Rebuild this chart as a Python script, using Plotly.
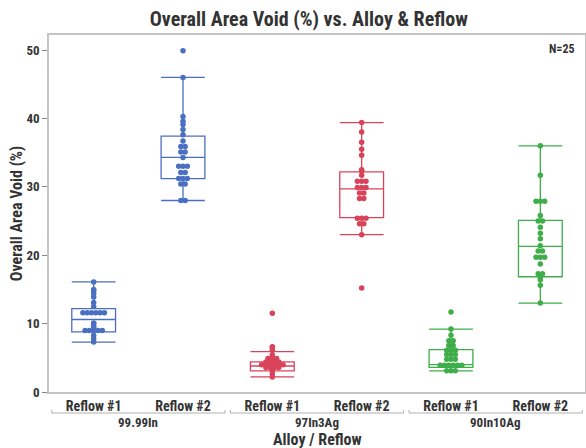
import plotly.graph_objects as go
from collections import Counter

# ---------------- data ----------------
alloys = ["99.99In", "97In3Ag", "90In10Ag"]
reflows = ["Reflow #1", "Reflow #2"]
colors = ["#4b6fc0", "#d9435a", "#3fae4a"]

void_99_r1 = [16.1, 15.0, 14.8, 14.4, 13.9, 13.1, 12.5, 11.6, 11.6, 11.6, 11.6, 11.6, 11.6,
              10.1, 10.0, 9.6, 9.5, 9.0, 9.0, 9.0, 9.0, 9.0, 8.3, 7.8, 7.3]
void_99_r2 = [49.9, 46.0, 40.3, 39.6, 39.1, 38.4, 37.6, 36.7, 35.9, 35.9, 35.1, 35.1, 34.3,
              33.0, 33.0, 33.0, 32.1, 32.1, 31.2, 31.2, 31.2, 30.4, 30.4, 28.0, 28.0]
void_97_r1 = [11.5, 6.6, 6.5, 6.1, 5.4, 4.9, 4.9, 4.9, 4.4, 4.4, 4.4, 4.4, 4.0, 4.0, 4.0,
              4.0, 4.0, 4.0, 3.6, 3.6, 3.6, 3.6, 3.2, 2.7, 2.2]
void_97_r2 = [39.4, 38.0, 36.5, 35.5, 34.6, 32.5, 32.3, 31.7, 30.8, 30.8, 30.8, 29.9, 29.9,
              29.9, 29.1, 29.1, 28.3, 28.3, 25.4, 25.4, 25.4, 24.6, 24.6, 23.0, 15.2]
void_90_r1 = [11.7, 9.2, 8.3, 7.5, 7.5, 6.8, 6.8, 6.1, 6.1, 6.1, 5.5, 5.5, 5.5, 4.8, 4.8,
              4.8, 3.9, 3.9, 3.9, 3.9, 3.9, 3.9, 3.1, 3.1, 3.1]
void_90_r2 = [36.0, 31.7, 27.9, 27.9, 27.9, 25.8, 25.0, 25.0, 24.1, 23.2, 22.4, 21.4, 20.6,
              20.6, 19.7, 19.7, 19.7, 18.7, 17.3, 17.3, 17.0, 16.8, 16.4, 15.6, 13.0]

series = [void_99_r1, void_99_r2, void_97_r1, void_97_r2, void_90_r1, void_90_r2]

# box statistics (JMP quantiles)
box_q1 = [8.8, 31.2, 3.1, 25.5, 3.6, 16.85]
box_median = [10.6, 34.3, 3.8, 29.7, 4.0, 21.3]
box_q3 = [12.2, 37.4, 4.4, 32.2, 6.2, 25.1]
box_lower = [7.3, 28.0, 2.2, 23.0, 3.1, 13.0]
box_upper = [16.1, 46.0, 5.9, 39.4, 9.2, 36.0]

y_ticks = [0, 10, 20, 30, 40, 50]
n_label = "N=25"

# ---------------- layout geometry ----------------
W, H = 586, 448
ML, MR, MT, MB = 49, 1, 35, 56
YMAX = 52.2
plot_w = W - ML - MR
px_per_x = plot_w / 6.0
spacing_px = 4.3

FONT = "Roboto Condensed, Roboto, Liberation Sans, sans-serif"
TXT = "#333333"

fig = go.Figure()

for i, vals in enumerate(series):
    col = colors[i // 2]
    fig.add_trace(go.Box(
        x=[i], q1=[box_q1[i]], median=[box_median[i]], q3=[box_q3[i]],
        lowerfence=[box_lower[i]], upperfence=[box_upper[i]],
        width=0.49, whiskerwidth=1, boxpoints=False,
        line=dict(color=col, width=1.3), fillcolor="rgba(0,0,0,0)",
        showlegend=False, hoverinfo="skip"))
    # centred rows for tied values (JMP-style dodging)
    counts = Counter(vals)
    seen = Counter()
    xs = []
    for v in vals:
        n = counts[v]
        k = seen[v]
        seen[v] += 1
        off_px = (k - (n - 1) / 2.0) * spacing_px
        xs.append(i + off_px / px_per_x)
    fig.add_trace(go.Scatter(
        x=xs, y=vals, mode="markers",
        marker=dict(color=col, size=5.5, line=dict(width=0)),
        showlegend=False, hoverinfo="y"))

axis_line = "#c4c4c4"
fig.update_layout(
    width=W, height=H,
    margin=dict(l=ML, r=MR, t=MT, b=MB, autoexpand=False),
    paper_bgcolor="white", plot_bgcolor="white",
    font=dict(family=FONT, color=TXT),
    title=dict(text="Overall Area Void (%) vs. Alloy & Reflow",
               x=0.527, xref="container", xanchor="center",
               y=0.958, yref="container", yanchor="middle",
               font=dict(family=FONT, size=20, color=TXT, weight="bold")),
    xaxis=dict(range=[-0.5, 5.5], tickvals=list(range(6)),
               ticktext=[reflows[j % 2] for j in range(6)], automargin=False,
               showgrid=False, zeroline=False, showline=True, linecolor=axis_line,
               linewidth=1.5, mirror=True, ticks="",
               tickfont=dict(family=FONT, size=14, color=TXT, weight="bold")),
    yaxis=dict(range=[0, YMAX], tickvals=y_ticks, showgrid=False, zeroline=False,
               automargin=False,
               showline=True, linecolor=axis_line, linewidth=1.5, mirror=True,
               ticks="outside", ticklen=5, tickcolor="#888888",
               tickfont=dict(family=FONT, size=13, color=TXT, weight="bold"),
               title=dict(text="Overall Area Void (%)", standoff=0,
                          font=dict(family=FONT, size=16, color=TXT, weight="bold"))),
)

# group brackets and labels
plot_h = H - MT - MB
br_y = -21.0 / plot_h
tick_h = 3.0 / plot_h
for g, name in enumerate(alloys):
    x0 = 2 * g - 0.5 + 0.03
    x1 = 2 * g + 1.5 - 0.03
    fig.add_shape(type="line", xref="x", yref="paper", x0=x0, x1=x1, y0=br_y, y1=br_y,
                  line=dict(color="#b0b0b0", width=1))
    for xe in (x0, x1):
        fig.add_shape(type="line", xref="x", yref="paper", x0=xe, x1=xe,
                      y0=br_y, y1=br_y + tick_h, line=dict(color="#b0b0b0", width=1))
    fig.add_annotation(x=2 * g + 0.5, xref="x", y=-30.5 / plot_h, yref="paper",
                       text=name, showarrow=False, yanchor="middle",
                       font=dict(family=FONT, size=13, color=TXT, weight="bold"))

fig.add_annotation(x=0.5, xref="paper", y=-47.0 / plot_h, yref="paper",
                   text="Alloy / Reflow", showarrow=False, yanchor="middle",
                   font=dict(family=FONT, size=16, color=TXT, weight="bold"))
fig.add_annotation(x=0.985, xref="paper", y=0.962, yref="paper", text=n_label,
                   showarrow=False, xanchor="right", yanchor="middle",
                   font=dict(family=FONT, size=12, color=TXT, weight="bold"))

fig.write_html("out.html", config={"displayModeBar": False},
               post_script="document.body.style.margin='0';")
